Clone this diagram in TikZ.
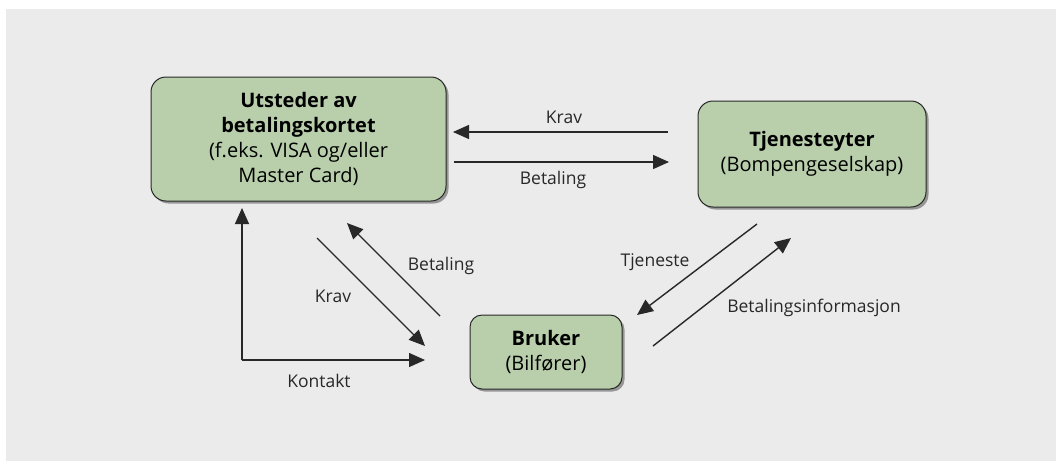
\documentclass[tikz,border=0pt]{standalone}
\usepackage{fontspec}
\setmainfont{Open Sans}
\usetikzlibrary{arrows.meta,shadows}
\definecolor{bggray}{RGB}{234,235,234}
\definecolor{boxgreen}{RGB}{185,207,172}
\definecolor{edge}{RGB}{40,40,40}
\definecolor{shade}{RGB}{150,150,150}
\tikzset{
  box/.style={draw=edge, line width=1pt, fill=boxgreen, rounded corners=15pt,
    align=center, inner sep=0pt, font=\fontsize{20}{25}\selectfont,
    drop shadow={shadow xshift=2.5pt, shadow yshift=-2.5pt, fill=shade, opacity=1}},
  conn/.style={line width=1.4pt, draw=edge, -{Triangle[length=16pt,width=14pt]}},
  lbl/.style={font=\fontsize{17.5}{20}\selectfont, text=edge, inner sep=0pt}
}
\begin{document}
\begin{tikzpicture}[x=1pt,y=-1pt]
\useasboundingbox (0,0) rectangle (1056,461);
\fill[white] (0,0) rectangle (1056,461);
\fill[bggray] (6,9) rectangle (1056,461);
% boxes
\node[box, minimum width=295pt, minimum height=124pt] (issuer) at (298.5,139)
  {\textbf{Utsteder av}\\ \textbf{betalingskortet}\\ (f.eks. VISA og/eller\\ Master Card)};
\node[box, minimum width=228pt, minimum height=106pt] (provider) at (812,154)
  {\textbf{Tjenesteyter}\\ (Bompengeselskap)};
\node[box, rounded corners=12pt, minimum width=152pt, minimum height=74pt] (user) at (546,352)
  {\textbf{Bruker}\\ (Bilfører)};
% endpoints
\coordinate (k1s) at (668,132); \coordinate (k1e) at (453,132);
\coordinate (b1s) at (454,162); \coordinate (b1e) at (669,162);
\coordinate (ks) at (242,360); \coordinate (kt) at (242,208); \coordinate (ke) at (425,360);
\coordinate (k2s) at (317,238); \coordinate (k2e) at (425,346);
\coordinate (b2s) at (440,316); \coordinate (b2e) at (347,223);
\coordinate (ts) at (757,224); \coordinate (te) at (637,315);
\coordinate (bis) at (653,346); \coordinate (bie) at (791,238);
% connectors
\draw[conn] (k1s) -- (k1e);
\draw[conn] (b1s) -- (b1e);
\draw[conn] (ks) -- (kt);
\draw[conn] (ks) -- (ke);
\draw[conn] (k2s) -- (k2e);
\draw[conn] (b2s) -- (b2e);
\draw[conn] (ts) -- (te);
\draw[conn] (bis) -- (bie);
% labels
\node[lbl] (lkrav1) at (564,117) {Krav};
\node[lbl] (lbet1) at (553,180) {Betaling};
\node[lbl] (lkont) at (319,381) {Kontakt};
\node[lbl] (lkrav2) at (333,296) {Krav};
\node[lbl] (lbet2) at (441,266) {Betaling};
\node[lbl] (ltj) at (655,262) {Tjeneste};
\node[lbl] (lbi) at (814,308) {Betalingsinformasjon};
\end{tikzpicture}
\end{document}
